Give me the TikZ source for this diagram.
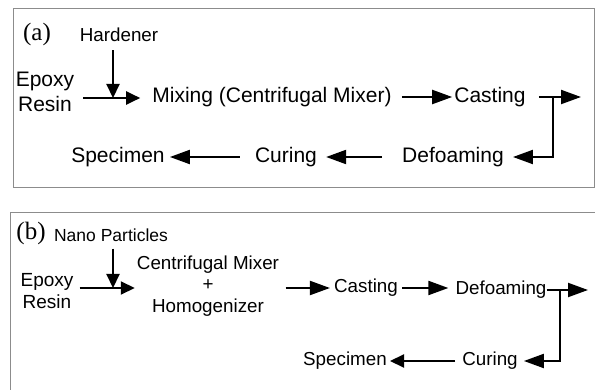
\documentclass[tikz,border=0pt]{standalone}
\usepackage{fontspec}
\setmainfont{Liberation Sans}
\newfontfamily\serifface{Liberation Serif}
\usetikzlibrary{arrows.meta}
\definecolor{framegray}{RGB}{140,140,140}
\begin{document}
\begin{tikzpicture}[x=1pt,y=-1pt,
  frame/.style={draw=framegray,line width=1pt},
  txta/.style={inner sep=0pt,align=center,font=\fontsize{21}{25}\selectfont},
  txtb/.style={inner sep=0pt,align=center,font=\fontsize{18.8}{21.5}\selectfont},
  lbl/.style={inner sep=0pt,font=\serifface\fontsize{25}{27}\selectfont},
  arr/.style={line width=2.1pt,-{Triangle[length=20pt,width=14pt]}},
  arrs/.style={line width=2.1pt,-{Triangle[length=14pt,width=13pt]}}]
\useasboundingbox (0,0) rectangle (595,390);
% ---------- panel (a)
\draw[frame] (13,9) rectangle (594,188);
\node[lbl] (la) at (37,34) {(a)};
\node[txta,font=\fontsize{18.8}{22}\selectfont] (hard1) at (119,35) {Hardener};
\node[txta] (ep1) at (45,92) {Epoxy\\Resin};
\node[txta] (mix1) at (272,97) {Mixing (Centrifugal Mixer)};
\node[txta] (cast1) at (490,97) {Casting};
\node[txta] (def1) at (453,157) {Defoaming};
\node[txta] (cur1) at (286,157) {Curing};
\node[txta] (spec1) at (118,157) {Specimen};
\coordinate (ja) at (113,98);
\coordinate (enda) at (581,97);
\coordinate (turna) at (553,97);
\draw[arrs,shorten <=9pt,shorten >=12pt] (ep1.east |- ja) -- (mix1.west |- ja);
\draw[arrs,shorten <=8pt] (hard1.south -| ja) -- (ja);
\draw[arr,shorten <=10pt,shorten >=2pt] (mix1) -- (cast1);
\draw[arr,shorten <=13pt] (cast1.east) -- (enda);
\draw[arr,shorten >=9pt] (turna) -- (turna |- def1) -- (def1.east);
\draw[arr,shorten <=20pt,shorten >=9pt] (def1.west) -- (cur1.east);
\draw[arr,shorten <=15pt,shorten >=5pt] (cur1.west) -- (spec1.east);
% ---------- panel (b)
\draw[frame] (595,213) -- (10,213) -- (10,390);
\node[lbl] (lb) at (31,233) {(b)};
\node[txtb,font=\fontsize{17.5}{20}\selectfont] (nano) at (111,235) {Nano Particles};
\node[txtb,font=\fontsize{19}{22}\selectfont] (ep2) at (47,291) {Epoxy\\Resin};
\node[txtb] (mix2) at (208,286) {Centrifugal Mixer\\+\\Homogenizer};
\node[txtb] (cast2) at (366,288) {Casting};
\node[txtb] (def2) at (501,290) {Defoaming};
\node[txtb] (cur2) at (490,361) {Curing};
\node[txtb] (spec2) at (345,361) {Specimen};
\coordinate (jb) at (113,288);
\coordinate (endb) at (588,290);
\coordinate (turnb) at (560,290);
\draw[arrs,shorten <=6pt,shorten >=2pt] (ep2.east |- jb) -- (mix2.west |- jb);
\draw[arrs,shorten <=7pt] (nano.south -| jb) -- (jb);
\draw[arr,shorten <=6.5pt,shorten >=4pt] (mix2.east |- jb) -- (cast2.west |- jb);
\draw[arr,shorten <=4pt,shorten >=7pt] (cast2.east) -- (def2.west |- cast2.east);
\draw[arr] (def2.east) -- (endb);
\draw[arr,shorten >=6pt] (turnb) -- (turnb |- cur2) -- (cur2.east);
\draw[arrs,shorten <=7pt,shorten >=3pt] (cur2.west) -- (spec2.east);
\end{tikzpicture}
\end{document}
